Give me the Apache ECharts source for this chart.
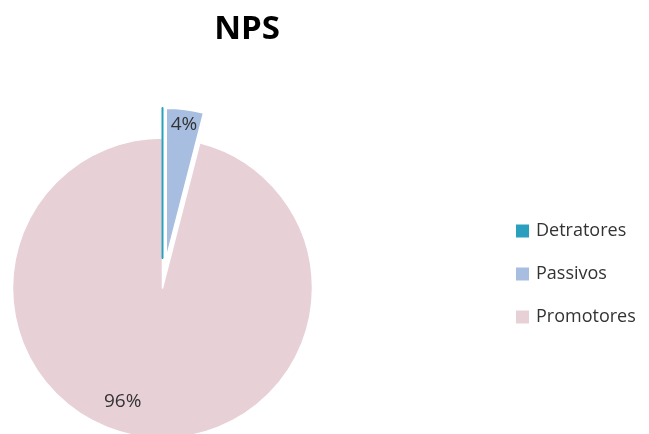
<!DOCTYPE html>
<html>
<head>
<meta charset="utf-8">
<script src="https://cdn.jsdelivr.net/npm/echarts@6/dist/echarts.min.js"></script>
<style>
  html, body { margin: 0; padding: 0; background: #ffffff; }
  #chart { width: 649px; height: 434px; }
</style>
</head>
<body>
<div id="chart"></div>
<script>
// NPS breakdown (percent of respondents)
const categories = ['Detratores', 'Passivos', 'Promotores'];
const values = [0, 4, 96];
const colors = ['#2aa0be', '#a7bee0', '#e8d0d7'];

// per-slice presentation: pulled-out slices and label nudges
const pulledOut = [true, true, false];
const labelOffsets = [[0, 0], [8, -56], [-30, 36]];

const chart = echarts.init(document.getElementById('chart'), null, { renderer: 'canvas' });

// Slices are fed in reverse and laid out counter-clockwise: the geometry is
// identical to a clockwise Detratores → Passivos → Promotores layout, but the
// thin Detratores slice is painted last so it stays on top.
const pieData = categories.map((name, i) => {
  const label = { show: values[i] > 0, offset: labelOffsets[i] };
  return {
    name: name,
    value: values[i],
    selected: pulledOut[i],
    itemStyle: {
      color: colors[i],
      borderColor: i === 0 ? colors[i] : '#ffffff',
      borderWidth: i === 0 ? 2 : 1.5
    },
    label: label,
    select: { label: label }
  };
}).reverse();

chart.setOption({
  animation: false,
  title: {
    text: 'NPS',
    left: 242,
    top: 8,
    textAlign: 'center',
    textStyle: {
      fontFamily: 'Open Sans',
      fontWeight: 'bold',
      fontSize: 33,
      color: '#000000'
    }
  },
  legend: {
    orient: 'vertical',
    left: 511,
    top: 216,
    itemWidth: 13,
    itemHeight: 13,
    itemGap: 23,
    icon: 'rect',
    selectedMode: false,
    data: categories,
    itemStyle: { borderWidth: 0 },
    textStyle: {
      fontFamily: 'Open Sans',
      fontSize: 18,
      lineHeight: 20,
      padding: [0, 0, 0, 2],
      color: '#333333'
    }
  },
  series: [{
    type: 'pie',
    center: [162.5, 288],
    radius: [0, 150],
    startAngle: 90,
    clockwise: false,
    selectedMode: 'multiple',
    selectedOffset: 30,
    avoidLabelOverlap: false,
    emphasis: { disabled: true },
    label: {
      position: 'inside',
      formatter: '{c}%',
      fontFamily: 'Open Sans',
      fontSize: 19,
      color: '#333333'
    },
    labelLine: { show: false },
    data: pieData
  }]
});
</script>
</body>
</html>
